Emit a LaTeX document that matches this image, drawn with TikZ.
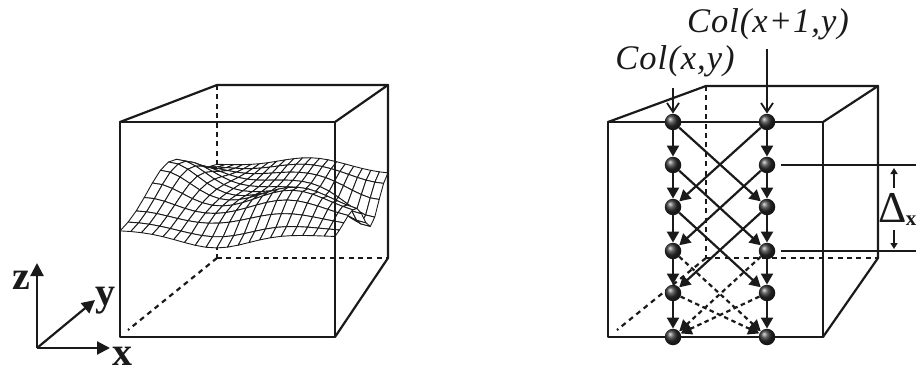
\documentclass[tikz,border=0pt]{standalone}
\usepackage{fontspec}
\setmainfont{Liberation Serif}
\usetikzlibrary{arrows.meta,shadings}
\definecolor{ink}{HTML}{1A1A1A}
\tikzset{
  x=1pt,y=-1pt,
  edge/.style={draw=ink,line width=2.2pt,line join=round,line cap=round},
  hid/.style={draw=ink,line width=2.2pt,dash pattern=on 5pt off 4.4pt},
  axisline/.style={draw=ink,line width=2.2pt,-{Triangle[length=13pt,width=13pt]}},
  flow/.style={draw=ink,line width=2.2pt,-{Triangle[length=11pt,width=12pt]}},
  flowd/.style={draw=ink,line width=2.2pt,dash pattern=on 4.5pt off 3.5pt,-{Triangle[length=11pt,width=12pt]}},
  feed/.style={draw=ink,line width=1.8pt,-{Straight Barb[length=9pt,width=12pt]}},
  tick/.style={draw=ink,line width=1.6pt,-{Triangle[length=6pt,width=7pt]}},
  ball/.style={circle,minimum size=16.5pt,inner sep=0pt,shading=ball,ball color=black!82},
  quad/.style={fill=white,draw=ink,line width=0.9pt,line join=round},
  collab/.style={anchor=base,inner sep=0pt,text=ink,font=\fontsize{34.5}{34.5}\selectfont\itshape\addfontfeature{LetterSpace=3}},
  axlab/.style={anchor=base,inner sep=0pt,text=ink,font=\fontsize{40}{40}\selectfont\bfseries},
}
\begin{document}
\begin{tikzpicture}
\useasboundingbox (0,0) rectangle (916,369);
% left cube, hidden edges
\draw[hid] (217,85) -- (217,258);
\draw[hid] (217,258) -- (388,258);
\draw[hid] (217,258) -- (128,330);
% surface
\def\Nu{20}\def\Nv{12}
\foreach \i in {0,...,\Nu}{
  \foreach \j in {0,...,\Nv}{
    \pgfmathsetmacro{\uu}{\i/\Nu}
    \pgfmathsetmacro{\vv}{\j/\Nv}
    \pgfmathsetmacro{\hh}{38*exp(-(\uu*\uu/0.05+(\vv-0.5)*(\vv-0.5)/0.09))
      +24*exp(-((\uu-0.7)*(\uu-0.7)/0.07+(\vv-0.35)*(\vv-0.35)/0.05))
      +12*exp(-((\uu-0.55)*(\uu-0.55)/0.08+(\vv-1)*(\vv-1)/0.08))
      -14*exp(-((\uu-0.45)*(\uu-0.45)/0.05+\vv*\vv/0.02))
      -34*exp(-((\uu-1)*(\uu-1)/0.05+(\vv-0.68)*(\vv-0.68)/0.035))}
    \pgfmathsetmacro{\px}{120+215*\uu+(97-44*\uu)*\vv}
    \pgfmathsetmacro{\py}{233+4*\uu-(66-\uu)*\vv-\hh}
    \coordinate (m-\i-\j) at (\px,\py);
  }
}
\pgfmathtruncatemacro{\Mu}{\Nu-1}
\pgfmathtruncatemacro{\Mv}{\Nv-1}
\foreach \jj in {\Mv,...,0}{
  \pgfmathtruncatemacro{\jn}{\jj+1}
  \foreach \i in {0,...,\Mu}{
    \pgfmathtruncatemacro{\in}{\i+1}
    \draw[quad] (m-\i-\jj) -- (m-\in-\jj) -- (m-\in-\jn) -- (m-\i-\jn) -- cycle;
  }
}
% left cube, visible edges
\draw[edge] (120,122) rectangle (335,337);
\draw[edge] (120,122) -- (217,85) -- (388,85) -- (335,122);
\draw[edge] (388,85) -- (388,258) -- (335,337);
% axes
\coordinate (o) at (37,348);
\coordinate (az) at (37,263);
\coordinate (ay) at (95,300);
\coordinate (ax) at (110,348);
\draw[axisline] (o) -- (az);
\draw[axisline] (o) -- (ay);
\draw[axisline] (o) -- (ax);
\node[axlab] (lz) at (21,289) {z};
\node[axlab] (ly) at (105,305) {y};
\node[axlab] (lx) at (122,365) {x};
% right cube
\draw[hid] (706,86) -- (706,258);
\draw[hid] (706,258) -- (878,258);
\draw[hid] (706,258) -- (617,330);
\draw[edge] (608,122) rectangle (823,337);
\draw[edge] (608,122) -- (706,86) -- (878,86) -- (823,122);
\draw[edge] (878,86) -- (878,258) -- (823,337);
% balls
\foreach \r/\yy in {1/122,2/165,3/207,4/251,5/293,6/337}{
  \node[ball] (a-\r) at (673,\yy) {};
  \node[ball] (b-\r) at (767,\yy) {};
}
% vertical chains
\foreach \r/\s in {1/2,2/3,3/4,4/5,5/6}{
  \draw[flow] (a-\r) -- (a-\s);
  \draw[flow] (b-\r) -- (b-\s);
}
% crossing links
\foreach \r/\s in {1/3,2/4,3/5}{
  \draw[flow] (a-\r) -- (b-\s);
  \draw[flow] (b-\r) -- (a-\s);
}
\foreach \r/\s in {4/6,5/6}{
  \draw[flowd] (a-\r) -- (b-\s);
  \draw[flowd] (b-\r) -- (a-\s);
}
% column labels
\node[collab] (c0) at (675,70) {Col(x,y)};
\node[collab] (c1) at (768,33) {Col(x+1,y)};
\coordinate (f0) at (673,88);
\coordinate (f1) at (767,49);
\draw[feed] (f0) -- (a-1);
\draw[feed] (f1) -- (b-1);
% spacing mark
\coordinate (e2) at (916,165);
\coordinate (e4) at (916,251);
\draw[draw=ink,line width=1.8pt] ([xshift=6pt]b-2.east) -- (e2);
\draw[draw=ink,line width=1.8pt] ([xshift=6pt]b-4.east) -- (e4);
\coordinate (t1) at (894,188);
\coordinate (t2) at (894,168);
\coordinate (t3) at (894,230);
\coordinate (t4) at (894,249);
\draw[tick] (t1) -- (t2);
\draw[tick] (t3) -- (t4);
\node[anchor=base,inner sep=0pt,text=ink,font=\fontsize{44}{44}\selectfont] (dl) at (893,222) {Δ};
\node[anchor=base,inner sep=0pt,text=ink,font=\fontsize{21}{21}\selectfont\bfseries] (dx) at (911,225) {x};
\end{tikzpicture}
\end{document}
